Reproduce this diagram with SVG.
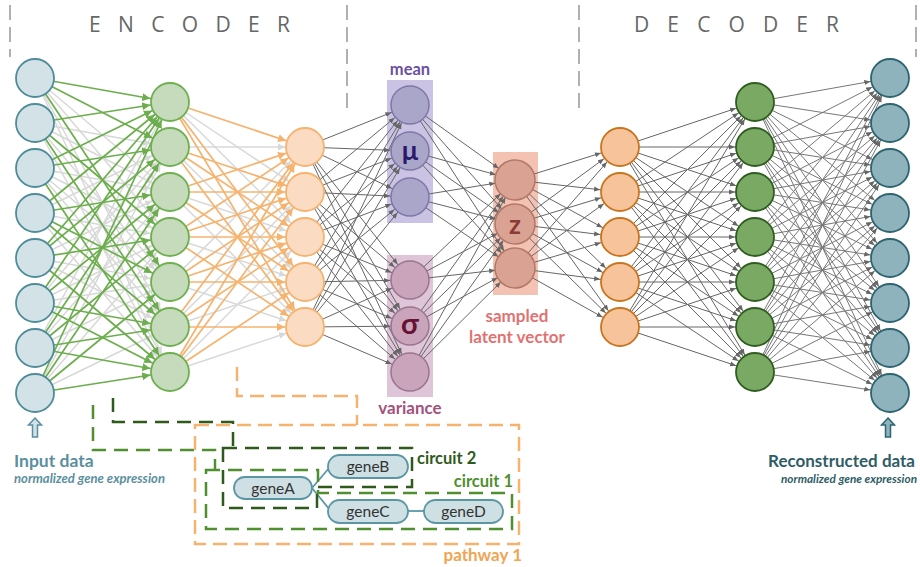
<svg xmlns="http://www.w3.org/2000/svg" width="920" height="567" viewBox="0 0 920 567">
<defs>
<style>
.in{fill:#d2e2e7;stroke:#4e8c99;stroke-width:1.8}
.eg{fill:#c6dabc;stroke:#6db04f;stroke-width:1.8}
.eo{fill:#fbdcc2;stroke:#f5b36f;stroke-width:1.8}
.mu{fill:#aaa6c9;stroke:#7e78a6;stroke-width:1.5}
.sg{fill:#c9a4ba;stroke:#9a7590;stroke-width:1.5}
.zz{fill:#d9a292;stroke:#b07868;stroke-width:1.5}
.do{fill:#f7c39b;stroke:#c7761f;stroke-width:1.8}
.dg{fill:#7aa964;stroke:#2f5d1f;stroke-width:1.8}
.ou{fill:#8fb3bc;stroke:#2c6470;stroke-width:1.8}
.lg{stroke:#d8d8d8;stroke-width:1.5;marker-end:url(#aLg)}
.gr{stroke:#6cae4d;stroke-width:1.7;marker-end:url(#aGr)}
.or{stroke:#f5b36f;stroke-width:1.7;marker-end:url(#aOr)}
.dk{stroke:#666;stroke-width:1;marker-end:url(#aDk)}
.vd{stroke:#b0b0b0;stroke-width:2;stroke-dasharray:15 7;fill:none}
.hdr{font-family:'Open Sans',sans-serif;font-size:21px;fill:#666}
.lbl{font-family:Lato,'Open Sans',sans-serif;font-weight:bold}
.gene rect{fill:#cfe0e4;stroke:#5b97a3;stroke-width:1.8}
.gene text{font-family:Lato,'Open Sans',sans-serif;font-size:15.5px;fill:#333;text-anchor:middle}
</style>
<marker id="aLg" markerUnits="userSpaceOnUse" markerWidth="30" markerHeight="8" refX="27" refY="4" orient="auto"><path d="M0,0.5 L7,4 L0,7.5 z" fill="#d8d8d8"/></marker>
<marker id="aGr" markerUnits="userSpaceOnUse" markerWidth="30" markerHeight="8" refX="28" refY="4" orient="auto"><path d="M0,0 L8,4 L0,8 z" fill="#6cae4d"/></marker>
<marker id="aOr" markerUnits="userSpaceOnUse" markerWidth="30" markerHeight="8" refX="28" refY="4" orient="auto"><path d="M0,0 L8,4 L0,8 z" fill="#f5b36f"/></marker>
<marker id="aDk" markerUnits="userSpaceOnUse" markerWidth="30" markerHeight="6" refX="26" refY="3" orient="auto"><path d="M0,0.5 L6,3 L0,5.5 z" fill="#666"/></marker>
</defs>
<rect width="920" height="567" fill="#fff"/>

<g id="dividers">
<line class="vd" x1="10" y1="5" x2="10" y2="57"/>
<line class="vd" x1="347" y1="5" x2="347" y2="115"/>
<line class="vd" x1="579" y1="5" x2="579" y2="115"/>
<line class="vd" x1="916" y1="5" x2="916" y2="57"/>
</g>
<text class="hdr" x="89" y="32" textLength="201" lengthAdjust="spacing">ENCODER</text>
<text class="hdr" x="634" y="32" textLength="205" lengthAdjust="spacing">DECODER</text>

<g id="boxes">
<rect x="387" y="80" width="46" height="143" fill="#cbc3e4"/>
<rect x="387" y="255" width="46" height="142" fill="#dfc5d8"/>
<rect x="493" y="152" width="45" height="143" fill="#f4c2b2"/>
</g>

<g id="connectors">
<g class="lg">
<line x1="35" y1="78" x2="170" y2="192"/><line x1="35" y1="78" x2="170" y2="237"/><line x1="35" y1="78" x2="170" y2="327"/><line x1="35" y1="78" x2="170" y2="372"/>
<line x1="35" y1="123" x2="170" y2="147"/><line x1="35" y1="123" x2="170" y2="192"/><line x1="35" y1="123" x2="170" y2="282"/><line x1="35" y1="123" x2="170" y2="372"/>
<line x1="35" y1="168" x2="170" y2="192"/><line x1="35" y1="168" x2="170" y2="237"/><line x1="35" y1="168" x2="170" y2="282"/><line x1="35" y1="168" x2="170" y2="327"/>
<line x1="35" y1="213" x2="170" y2="147"/><line x1="35" y1="213" x2="170" y2="237"/><line x1="35" y1="213" x2="170" y2="372"/>
<line x1="35" y1="258" x2="170" y2="192"/><line x1="35" y1="258" x2="170" y2="282"/><line x1="35" y1="258" x2="170" y2="327"/>
<line x1="35" y1="303" x2="170" y2="147"/><line x1="35" y1="303" x2="170" y2="237"/><line x1="35" y1="303" x2="170" y2="282"/>
<line x1="35" y1="348" x2="170" y2="102"/><line x1="35" y1="348" x2="170" y2="192"/><line x1="35" y1="348" x2="170" y2="282"/>
<line x1="35" y1="393" x2="170" y2="147"/><line x1="35" y1="393" x2="170" y2="237"/><line x1="35" y1="393" x2="170" y2="327"/>
<line x1="170" y1="102" x2="305" y2="192"/><line x1="170" y1="102" x2="305" y2="237"/>
<line x1="170" y1="147" x2="305" y2="147"/><line x1="170" y1="147" x2="305" y2="282"/>
<line x1="170" y1="192" x2="305" y2="237"/><line x1="170" y1="192" x2="305" y2="327"/>
<line x1="170" y1="237" x2="305" y2="282"/>
<line x1="170" y1="282" x2="305" y2="147"/><line x1="170" y1="282" x2="305" y2="327"/>
<line x1="170" y1="327" x2="305" y2="192"/><line x1="170" y1="327" x2="305" y2="282"/>
<line x1="170" y1="372" x2="305" y2="237"/><line x1="170" y1="372" x2="305" y2="327"/>
</g>
<g class="gr">
<line x1="35" y1="78" x2="170" y2="102"/><line x1="35" y1="78" x2="170" y2="147"/><line x1="35" y1="78" x2="170" y2="282"/>
<line x1="35" y1="123" x2="170" y2="102"/><line x1="35" y1="123" x2="170" y2="237"/><line x1="35" y1="123" x2="170" y2="327"/>
<line x1="35" y1="168" x2="170" y2="102"/><line x1="35" y1="168" x2="170" y2="147"/><line x1="35" y1="168" x2="170" y2="372"/>
<line x1="35" y1="213" x2="170" y2="102"/><line x1="35" y1="213" x2="170" y2="192"/><line x1="35" y1="213" x2="170" y2="282"/><line x1="35" y1="213" x2="170" y2="327"/>
<line x1="35" y1="258" x2="170" y2="102"/><line x1="35" y1="258" x2="170" y2="147"/><line x1="35" y1="258" x2="170" y2="237"/><line x1="35" y1="258" x2="170" y2="372"/>
<line x1="35" y1="303" x2="170" y2="102"/><line x1="35" y1="303" x2="170" y2="192"/><line x1="35" y1="303" x2="170" y2="327"/><line x1="35" y1="303" x2="170" y2="372"/>
<line x1="35" y1="348" x2="170" y2="147"/><line x1="35" y1="348" x2="170" y2="237"/><line x1="35" y1="348" x2="170" y2="327"/><line x1="35" y1="348" x2="170" y2="372"/>
<line x1="35" y1="393" x2="170" y2="102"/><line x1="35" y1="393" x2="170" y2="192"/><line x1="35" y1="393" x2="170" y2="282"/><line x1="35" y1="393" x2="170" y2="372"/>
</g>
<g class="or">
<line x1="170" y1="102" x2="305" y2="147"/><line x1="170" y1="102" x2="305" y2="282"/><line x1="170" y1="102" x2="305" y2="327"/>
<line x1="170" y1="147" x2="305" y2="192"/><line x1="170" y1="147" x2="305" y2="237"/><line x1="170" y1="147" x2="305" y2="327"/>
<line x1="170" y1="192" x2="305" y2="147"/><line x1="170" y1="192" x2="305" y2="192"/><line x1="170" y1="192" x2="305" y2="282"/>
<line x1="170" y1="237" x2="305" y2="147"/><line x1="170" y1="237" x2="305" y2="192"/><line x1="170" y1="237" x2="305" y2="237"/><line x1="170" y1="237" x2="305" y2="327"/>
<line x1="170" y1="282" x2="305" y2="192"/><line x1="170" y1="282" x2="305" y2="237"/><line x1="170" y1="282" x2="305" y2="282"/>
<line x1="170" y1="327" x2="305" y2="147"/><line x1="170" y1="327" x2="305" y2="237"/><line x1="170" y1="327" x2="305" y2="327"/>
<line x1="170" y1="372" x2="305" y2="147"/><line x1="170" y1="372" x2="305" y2="192"/><line x1="170" y1="372" x2="305" y2="282"/>
</g>
<g class="dk">
<line x1="305" y1="147" x2="410" y2="105"/><line x1="305" y1="147" x2="410" y2="151"/><line x1="305" y1="147" x2="410" y2="197"/><line x1="305" y1="147" x2="410" y2="280"/><line x1="305" y1="147" x2="410" y2="326"/><line x1="305" y1="147" x2="410" y2="372"/>
<line x1="305" y1="192" x2="410" y2="105"/><line x1="305" y1="192" x2="410" y2="151"/><line x1="305" y1="192" x2="410" y2="197"/><line x1="305" y1="192" x2="410" y2="280"/><line x1="305" y1="192" x2="410" y2="326"/><line x1="305" y1="192" x2="410" y2="372"/>
<line x1="305" y1="237" x2="410" y2="105"/><line x1="305" y1="237" x2="410" y2="151"/><line x1="305" y1="237" x2="410" y2="197"/><line x1="305" y1="237" x2="410" y2="280"/><line x1="305" y1="237" x2="410" y2="326"/><line x1="305" y1="237" x2="410" y2="372"/>
<line x1="305" y1="282" x2="410" y2="105"/><line x1="305" y1="282" x2="410" y2="151"/><line x1="305" y1="282" x2="410" y2="197"/><line x1="305" y1="282" x2="410" y2="280"/><line x1="305" y1="282" x2="410" y2="326"/><line x1="305" y1="282" x2="410" y2="372"/>
<line x1="305" y1="327" x2="410" y2="105"/><line x1="305" y1="327" x2="410" y2="151"/><line x1="305" y1="327" x2="410" y2="197"/><line x1="305" y1="327" x2="410" y2="280"/><line x1="305" y1="327" x2="410" y2="326"/><line x1="305" y1="327" x2="410" y2="372"/>
<line x1="410" y1="105" x2="515" y2="180"/><line x1="410" y1="105" x2="515" y2="224"/><line x1="410" y1="105" x2="515" y2="268"/>
<line x1="410" y1="151" x2="515" y2="180"/><line x1="410" y1="151" x2="515" y2="224"/><line x1="410" y1="151" x2="515" y2="268"/>
<line x1="410" y1="197" x2="515" y2="180"/><line x1="410" y1="197" x2="515" y2="224"/><line x1="410" y1="197" x2="515" y2="268"/>
<line x1="410" y1="280" x2="515" y2="180"/><line x1="410" y1="280" x2="515" y2="224"/><line x1="410" y1="280" x2="515" y2="268"/>
<line x1="410" y1="326" x2="515" y2="180"/><line x1="410" y1="326" x2="515" y2="224"/><line x1="410" y1="326" x2="515" y2="268"/>
<line x1="410" y1="372" x2="515" y2="180"/><line x1="410" y1="372" x2="515" y2="224"/><line x1="410" y1="372" x2="515" y2="268"/>
<line x1="515" y1="180" x2="620" y2="147"/><line x1="515" y1="180" x2="620" y2="192"/><line x1="515" y1="180" x2="620" y2="237"/><line x1="515" y1="180" x2="620" y2="282"/><line x1="515" y1="180" x2="620" y2="327"/>
<line x1="515" y1="224" x2="620" y2="147"/><line x1="515" y1="224" x2="620" y2="192"/><line x1="515" y1="224" x2="620" y2="237"/><line x1="515" y1="224" x2="620" y2="282"/><line x1="515" y1="224" x2="620" y2="327"/>
<line x1="515" y1="268" x2="620" y2="147"/><line x1="515" y1="268" x2="620" y2="192"/><line x1="515" y1="268" x2="620" y2="237"/><line x1="515" y1="268" x2="620" y2="282"/><line x1="515" y1="268" x2="620" y2="327"/>
<line x1="620" y1="147" x2="755" y2="102"/><line x1="620" y1="147" x2="755" y2="147"/><line x1="620" y1="147" x2="755" y2="192"/><line x1="620" y1="147" x2="755" y2="237"/><line x1="620" y1="147" x2="755" y2="282"/><line x1="620" y1="147" x2="755" y2="327"/><line x1="620" y1="147" x2="755" y2="372"/>
<line x1="620" y1="192" x2="755" y2="102"/><line x1="620" y1="192" x2="755" y2="147"/><line x1="620" y1="192" x2="755" y2="192"/><line x1="620" y1="192" x2="755" y2="237"/><line x1="620" y1="192" x2="755" y2="282"/><line x1="620" y1="192" x2="755" y2="327"/><line x1="620" y1="192" x2="755" y2="372"/>
<line x1="620" y1="237" x2="755" y2="102"/><line x1="620" y1="237" x2="755" y2="147"/><line x1="620" y1="237" x2="755" y2="192"/><line x1="620" y1="237" x2="755" y2="237"/><line x1="620" y1="237" x2="755" y2="282"/><line x1="620" y1="237" x2="755" y2="327"/><line x1="620" y1="237" x2="755" y2="372"/>
<line x1="620" y1="282" x2="755" y2="102"/><line x1="620" y1="282" x2="755" y2="147"/><line x1="620" y1="282" x2="755" y2="192"/><line x1="620" y1="282" x2="755" y2="237"/><line x1="620" y1="282" x2="755" y2="282"/><line x1="620" y1="282" x2="755" y2="327"/><line x1="620" y1="282" x2="755" y2="372"/>
<line x1="620" y1="327" x2="755" y2="102"/><line x1="620" y1="327" x2="755" y2="147"/><line x1="620" y1="327" x2="755" y2="192"/><line x1="620" y1="327" x2="755" y2="237"/><line x1="620" y1="327" x2="755" y2="282"/><line x1="620" y1="327" x2="755" y2="327"/><line x1="620" y1="327" x2="755" y2="372"/>
</g>
<g class="dk" style="stroke:#777">
<line x1="755" y1="102" x2="890" y2="78"/><line x1="755" y1="102" x2="890" y2="123"/><line x1="755" y1="102" x2="890" y2="168"/><line x1="755" y1="102" x2="890" y2="213"/><line x1="755" y1="102" x2="890" y2="258"/><line x1="755" y1="102" x2="890" y2="303"/><line x1="755" y1="102" x2="890" y2="348"/><line x1="755" y1="102" x2="890" y2="393"/>
<line x1="755" y1="147" x2="890" y2="78"/><line x1="755" y1="147" x2="890" y2="123"/><line x1="755" y1="147" x2="890" y2="168"/><line x1="755" y1="147" x2="890" y2="213"/><line x1="755" y1="147" x2="890" y2="258"/><line x1="755" y1="147" x2="890" y2="303"/><line x1="755" y1="147" x2="890" y2="348"/><line x1="755" y1="147" x2="890" y2="393"/>
<line x1="755" y1="192" x2="890" y2="78"/><line x1="755" y1="192" x2="890" y2="123"/><line x1="755" y1="192" x2="890" y2="168"/><line x1="755" y1="192" x2="890" y2="213"/><line x1="755" y1="192" x2="890" y2="258"/><line x1="755" y1="192" x2="890" y2="303"/><line x1="755" y1="192" x2="890" y2="348"/><line x1="755" y1="192" x2="890" y2="393"/>
<line x1="755" y1="237" x2="890" y2="78"/><line x1="755" y1="237" x2="890" y2="123"/><line x1="755" y1="237" x2="890" y2="168"/><line x1="755" y1="237" x2="890" y2="213"/><line x1="755" y1="237" x2="890" y2="258"/><line x1="755" y1="237" x2="890" y2="303"/><line x1="755" y1="237" x2="890" y2="348"/><line x1="755" y1="237" x2="890" y2="393"/>
<line x1="755" y1="282" x2="890" y2="78"/><line x1="755" y1="282" x2="890" y2="123"/><line x1="755" y1="282" x2="890" y2="168"/><line x1="755" y1="282" x2="890" y2="213"/><line x1="755" y1="282" x2="890" y2="258"/><line x1="755" y1="282" x2="890" y2="303"/><line x1="755" y1="282" x2="890" y2="348"/><line x1="755" y1="282" x2="890" y2="393"/>
<line x1="755" y1="327" x2="890" y2="78"/><line x1="755" y1="327" x2="890" y2="123"/><line x1="755" y1="327" x2="890" y2="168"/><line x1="755" y1="327" x2="890" y2="213"/><line x1="755" y1="327" x2="890" y2="258"/><line x1="755" y1="327" x2="890" y2="303"/><line x1="755" y1="327" x2="890" y2="348"/><line x1="755" y1="327" x2="890" y2="393"/>
<line x1="755" y1="372" x2="890" y2="78"/><line x1="755" y1="372" x2="890" y2="123"/><line x1="755" y1="372" x2="890" y2="168"/><line x1="755" y1="372" x2="890" y2="213"/><line x1="755" y1="372" x2="890" y2="258"/><line x1="755" y1="372" x2="890" y2="303"/><line x1="755" y1="372" x2="890" y2="348"/><line x1="755" y1="372" x2="890" y2="393"/>
</g>
<path d="M237,367 V396 H357 V425" fill="none" stroke="#f5b36f" stroke-width="2.5" stroke-dasharray="14 7"/>
<path d="M113,398 V422 H233 V448" fill="none" stroke="#2e5a1c" stroke-width="2.5" stroke-dasharray="14 8"/>
<path d="M93,405 V450 H215 V470" fill="none" stroke="#4f8f2f" stroke-width="2.5" stroke-dasharray="14 8"/>
<g stroke="#5b97a3" stroke-width="1.8">
<line x1="312" y1="488" x2="330" y2="467"/>
<line x1="312" y1="488" x2="330" y2="510"/>
<line x1="408" y1="511" x2="424" y2="511"/>
</g>
</g>

<g id="in1"><circle class="in" cx="35" cy="78" r="19"/></g>
<g id="in2"><circle class="in" cx="35" cy="123" r="19"/></g>
<g id="in3"><circle class="in" cx="35" cy="168" r="19"/></g>
<g id="in4"><circle class="in" cx="35" cy="213" r="19"/></g>
<g id="in5"><circle class="in" cx="35" cy="258" r="19"/></g>
<g id="in6"><circle class="in" cx="35" cy="303" r="19"/></g>
<g id="in7"><circle class="in" cx="35" cy="348" r="19"/></g>
<g id="in8"><circle class="in" cx="35" cy="393" r="19"/></g>
<g id="eg1"><circle class="eg" cx="170" cy="102" r="19"/></g>
<g id="eg2"><circle class="eg" cx="170" cy="147" r="19"/></g>
<g id="eg3"><circle class="eg" cx="170" cy="192" r="19"/></g>
<g id="eg4"><circle class="eg" cx="170" cy="237" r="19"/></g>
<g id="eg5"><circle class="eg" cx="170" cy="282" r="19"/></g>
<g id="eg6"><circle class="eg" cx="170" cy="327" r="19"/></g>
<g id="eg7"><circle class="eg" cx="170" cy="372" r="19"/></g>
<g id="eo1"><circle class="eo" cx="305" cy="147" r="19"/></g>
<g id="eo2"><circle class="eo" cx="305" cy="192" r="19"/></g>
<g id="eo3"><circle class="eo" cx="305" cy="237" r="19"/></g>
<g id="eo4"><circle class="eo" cx="305" cy="282" r="19"/></g>
<g id="eo5"><circle class="eo" cx="305" cy="327" r="19"/></g>
<g id="mu1"><circle class="mu" cx="410" cy="105" r="19"/></g>
<g id="mu2"><circle class="mu" cx="410" cy="151" r="19"/><text x="410" y="160" text-anchor="middle" class="lbl" style="font-size:27px;fill:#2a1a6c">μ</text></g>
<g id="mu3"><circle class="mu" cx="410" cy="197" r="19"/></g>
<g id="sg1"><circle class="sg" cx="410" cy="280" r="19"/></g>
<g id="sg2"><circle class="sg" cx="410" cy="326" r="19"/><text x="410" y="334" text-anchor="middle" class="lbl" style="font-size:29px;fill:#661232">σ</text></g>
<g id="sg3"><circle class="sg" cx="410" cy="372" r="19"/></g>
<g id="z1"><circle class="zz" cx="515" cy="180" r="20"/></g>
<g id="z2"><circle class="zz" cx="515" cy="224" r="20"/><text x="515" y="234" text-anchor="middle" class="lbl" style="font-size:26px;fill:#8b3a36">z</text></g>
<g id="z3"><circle class="zz" cx="515" cy="268" r="20"/></g>
<g id="do1"><circle class="do" cx="620" cy="147" r="19"/></g>
<g id="do2"><circle class="do" cx="620" cy="192" r="19"/></g>
<g id="do3"><circle class="do" cx="620" cy="237" r="19"/></g>
<g id="do4"><circle class="do" cx="620" cy="282" r="19"/></g>
<g id="do5"><circle class="do" cx="620" cy="327" r="19"/></g>
<g id="dg1"><circle class="dg" cx="755" cy="102" r="19"/></g>
<g id="dg2"><circle class="dg" cx="755" cy="147" r="19"/></g>
<g id="dg3"><circle class="dg" cx="755" cy="192" r="19"/></g>
<g id="dg4"><circle class="dg" cx="755" cy="237" r="19"/></g>
<g id="dg5"><circle class="dg" cx="755" cy="282" r="19"/></g>
<g id="dg6"><circle class="dg" cx="755" cy="327" r="19"/></g>
<g id="dg7"><circle class="dg" cx="755" cy="372" r="19"/></g>
<g id="out1"><circle class="ou" cx="890" cy="78" r="19"/></g>
<g id="out2"><circle class="ou" cx="890" cy="123" r="19"/></g>
<g id="out3"><circle class="ou" cx="890" cy="168" r="19"/></g>
<g id="out4"><circle class="ou" cx="890" cy="213" r="19"/></g>
<g id="out5"><circle class="ou" cx="890" cy="258" r="19"/></g>
<g id="out6"><circle class="ou" cx="890" cy="303" r="19"/></g>
<g id="out7"><circle class="ou" cx="890" cy="348" r="19"/></g>
<g id="out8"><circle class="ou" cx="890" cy="393" r="19"/></g>

<text x="410" y="75" text-anchor="middle" class="lbl" style="font-size:16.5px;fill:#6a4fa3">mean</text>
<text x="410" y="414" text-anchor="middle" class="lbl" style="font-size:17px;fill:#a3527d">variance</text>
<text x="517" y="322" text-anchor="middle" class="lbl" style="font-size:17px;fill:#e07272">sampled</text>
<text x="517" y="343" text-anchor="middle" class="lbl" style="font-size:17px;fill:#e07272">latent vector</text>

<g id="inputArrow"><path d="M35,418 L41.5,425 L37.5,425 L37.5,437 L32.5,437 L32.5,425 L28.5,425 Z" fill="#d2e2e7" stroke="#5a8f9e" stroke-width="1.5"/></g>
<g id="outputArrow"><path d="M888,418 L894.5,425 L890.5,425 L890.5,437 L885.5,437 L885.5,425 L881.5,425 Z" fill="#8fb3bc" stroke="#2c6470" stroke-width="1.5"/></g>
<text x="14" y="467" class="lbl" style="font-size:17.5px;fill:#5a8f9e">Input data</text>
<text x="14" y="483" class="lbl" style="font-size:12.5px;font-style:italic;fill:#5a8f9e" textLength="151" lengthAdjust="spacingAndGlyphs">normalized gene expression</text>
<text x="915" y="467" text-anchor="end" class="lbl" style="font-size:17px;fill:#2f5d66">Reconstructed data</text>
<text x="781" y="483" class="lbl" style="font-size:11.5px;font-style:italic;fill:#2f5d66" textLength="136" lengthAdjust="spacingAndGlyphs">normalized gene expression</text>

<g id="pathway1">
<rect x="195" y="425" width="324" height="119" fill="none" stroke="#f5b36f" stroke-width="2.5" stroke-dasharray="14 7"/>
<text x="522" y="561" text-anchor="end" class="lbl" style="font-size:17px;fill:#f0a552">pathway 1</text>
</g>
<g id="circuit2">
<path d="M223,448 H412 V487 H317 V508 H223 Z" fill="none" stroke="#2e5a1c" stroke-width="2.5" stroke-dasharray="14 8"/>
<text x="417" y="464" class="lbl" style="font-size:16.5px;fill:#2e5a1c">circuit 2</text>
</g>
<g id="circuit1">
<path d="M206,470 H318 V493 H512 V529 H206 Z" fill="none" stroke="#4f8f2f" stroke-width="2.5" stroke-dasharray="14 8"/>
<text x="513" y="487" text-anchor="end" class="lbl" style="font-size:16.5px;fill:#4f8f2f">circuit 1</text>
</g>
<g id="geneA" class="gene"><rect x="234" y="477" width="78" height="22" rx="11"/><text x="273" y="493.5">geneA</text></g>
<g id="geneB" class="gene"><rect x="328" y="455" width="80" height="23" rx="11.5"/><text x="368" y="472">geneB</text></g>
<g id="geneC" class="gene"><rect x="328" y="500" width="80" height="23" rx="11.5"/><text x="368" y="517">geneC</text></g>
<g id="geneD" class="gene"><rect x="424" y="500" width="79" height="23" rx="11.5"/><text x="463.5" y="517">geneD</text></g>
</svg>
